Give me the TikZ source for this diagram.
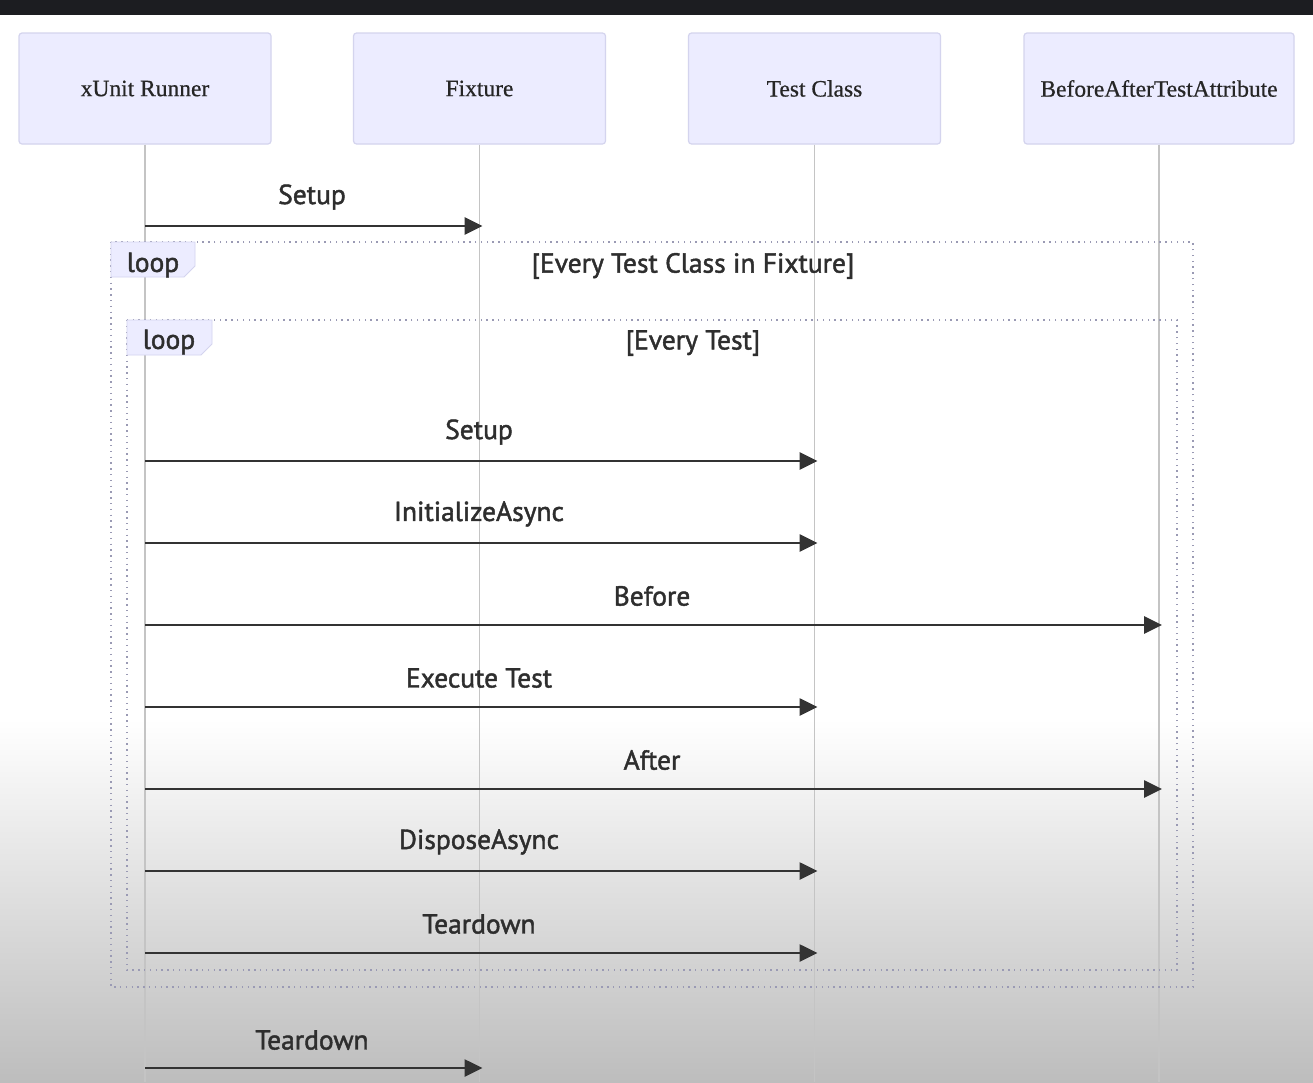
\documentclass[tikz,border=0pt]{standalone}
\usepackage{fontspec}
\setmainfont{Liberation Serif}[FakeBold=0.6]
\newfontfamily\msgfont{PT Sans}[FakeBold=1.6]
\usetikzlibrary{arrows.meta,calc}
\definecolor{actorfill}{HTML}{ECECFF}
\definecolor{actorline}{HTML}{D4D4EE}
\definecolor{loopline}{HTML}{9A9AB4}
\definecolor{msgline}{HTML}{333333}
\definecolor{msgtext}{HTML}{2E2E2E}
\definecolor{lifeline}{HTML}{C4C4C4}
\definecolor{topbar}{HTML}{1C1D21}
\definecolor{bottomgray}{HTML}{BDBDBD}
\tikzset{
  actor/.style={draw=actorline, line width=1.2pt, fill=actorfill, rounded corners=3pt,
    minimum width=252pt, minimum height=111pt, inner sep=0pt, font=\fontsize{23.5}{26}\selectfont, text=black!85},
  lifeln/.style={draw=lifeline, line width=1.4pt},
  msg/.style={draw=msgline, line width=2.7pt, -{Triangle[length=18pt,width=17pt]}},
  msglabel/.style={font=\msgfont\fontsize{27.5}{30}\selectfont, text=msgtext, inner sep=0pt},
  loopbox/.style={draw=loopline, line width=1.4pt, dash pattern=on 1.4pt off 4.4pt},
  looptag/.style={fill=actorfill, draw=actorline, line width=0.8pt},
}
\begin{document}
\begin{tikzpicture}[x=1pt,y=-1pt]
\useasboundingbox (0,0) rectangle (1313,1082);
% background
\fill[white] (0,0) rectangle (1313,720);
\shade[top color=white, bottom color=bottomgray] (0,719) rectangle (1313,1082);
\fill[topbar] (0,0) rectangle (1313,15);

% actors
\node[actor] (a1) at (145,88.5) {xUnit Runner};
\node[actor] (a2) at (479.5,88.5) {Fixture};
\node[actor] (a3) at (814.5,88.5) {Test Class};
\node[actor, minimum width=270pt] (a4) at (1159,88.5) {BeforeAfterTestAttribute};

% lifeline ends
\coordinate (e1) at (a1 |- 0,1082);
\coordinate (e2) at (a2 |- 0,1082);
\coordinate (e3) at (a3 |- 0,1082);
\coordinate (e4) at (a4 |- 0,1082);
\draw[lifeln] (a1.south) -- (e1);
\draw[lifeln] (a2.south) -- (e2);
\draw[lifeln] (a3.south) -- (e3);
\draw[lifeln] (a4.south) -- (e4);

% loops
\draw[loopbox] (111,242) rectangle (1193,987);
\draw[looptag] (111,242) -- (195,242) -- (195,266) -- (184,277) -- (111,277) -- cycle;
\node[msglabel] (l1) at (153,265) {loop};
\node[msglabel] (l1t) at (693,266) {[Every Test Class in Fixture]};

\draw[loopbox] (127,320) rectangle (1177,970);
\draw[looptag] (127,320) -- (212,320) -- (212,344) -- (201,355) -- (127,355) -- cycle;
\node[msglabel] (l2) at (169,342) {loop};
\node[msglabel] (l2t) at (693,343) {[Every Test]};

% messages
\draw[msg] (a1 |- 0,226) -- ($(a2 |- 0,226)+(3,0)$);
\node[msglabel] (t1) at (312,197) {Setup};

\draw[msg] (a1 |- 0,461) -- ($(a3 |- 0,461)+(3,0)$);
\node[msglabel] (t2) at (479,432) {Setup};

\draw[msg] (a1 |- 0,543) -- ($(a3 |- 0,543)+(3,0)$);
\node[msglabel] (t3) at (479,514) {InitializeAsync};

\draw[msg] (a1 |- 0,625) -- ($(a4 |- 0,625)+(3,0)$);
\node[msglabel] (t4) at (652,596) {Before};

\draw[msg] (a1 |- 0,707) -- ($(a3 |- 0,707)+(3,0)$);
\node[msglabel] (t5) at (479,678) {Execute Test};

\draw[msg] (a1 |- 0,789) -- ($(a4 |- 0,789)+(3,0)$);
\node[msglabel] (t6) at (652,760) {After};

\draw[msg] (a1 |- 0,871) -- ($(a3 |- 0,871)+(3,0)$);
\node[msglabel] (t7) at (479,842) {DisposeAsync};

\draw[msg] (a1 |- 0,953) -- ($(a3 |- 0,953)+(3,0)$);
\node[msglabel] (t8) at (479,924) {Teardown};

\draw[msg] (a1 |- 0,1068) -- ($(a2 |- 0,1068)+(3,0)$);
\node[msglabel] (t9) at (312,1040) {Teardown};
\end{tikzpicture}
\end{document}
